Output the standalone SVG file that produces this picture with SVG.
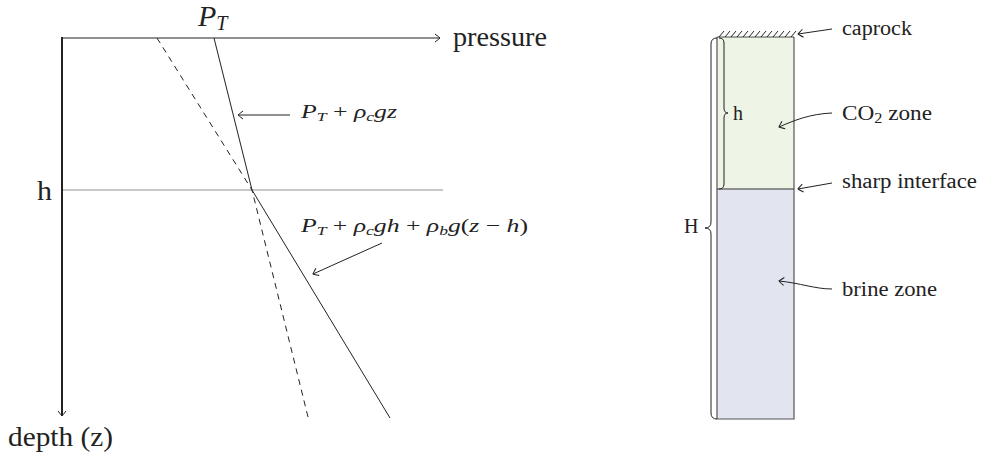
<svg xmlns="http://www.w3.org/2000/svg" width="984" height="458" viewBox="0 0 984 458">
<style>
.ln{stroke:#222;fill:none;stroke-width:1}
.ax{stroke:#222;fill:none;stroke-width:2}
</style>
<defs>
<marker id="to" viewBox="-6 -5 8 10" markerWidth="8" markerHeight="10" refX="0" refY="0" orient="auto" markerUnits="userSpaceOnUse">
<path d="M-5,-4 Q-1,-1 0,0 Q-1,1 -5,4" fill="none" stroke="#222" stroke-width="1"/>
</marker>
</defs>
<g font-family="'Liberation Serif', 'DejaVu Serif', serif" fill="#222">
<g id="plot">
<line x1="62" y1="190" x2="443" y2="190" stroke="#b4b4b4" stroke-width="1.5"/>
<line class="ax" x1="62" y1="37" x2="62" y2="416" marker-end="url(#to)"/>
<line class="ln" x1="61" y1="38" x2="440" y2="38" marker-end="url(#to)"/>
<polyline class="ln" points="214,38 252,190 390,418"/>
<polyline class="ln" points="157,38 252,190 308,417" stroke-dasharray="6,5"/>
<text x="198" y="26" font-style="italic" font-size="30">P<tspan font-size="20" dy="4">T</tspan></text>
<text x="453" y="46" font-size="27" textLength="94" lengthAdjust="spacingAndGlyphs">pressure</text>
<text x="8" y="446" font-size="27" textLength="105" lengthAdjust="spacingAndGlyphs">depth (z)</text>
<text x="37" y="200" font-size="28" textLength="15" lengthAdjust="spacingAndGlyphs">h</text>
</g>
<g id="column">
<rect x="717" y="37" width="77" height="152" fill="#eef4e6"/>
<rect x="717" y="189" width="77" height="230" fill="#e2e4f0"/>
<path d="M717,37 L717,419 L794,419 L794,37" fill="none" stroke="#555" stroke-width="1.2"/>
<line x1="717" y1="189" x2="794" y2="189" stroke="#333" stroke-width="1.2"/>
<line x1="717" y1="37" x2="794" y2="37" stroke="#222" stroke-width="0.8"/>
<path class="ln" stroke-width="0.8" d="M719,37 l5,-6 M725,37 l5,-6 M731,37 l5,-6 M737,37 l5,-6 M743,37 l5,-6 M749,37 l5,-6 M755,37 l5,-6 M761,37 l5,-6 M767,37 l5,-6 M773,37 l5,-6 M779,37 l5,-6 M785,37 l5,-6 M791,37 l5,-6"/>
</g>
<g id="connectors">
<line class="ln" x1="290" y1="115" x2="238" y2="115" marker-end="url(#to)"/>
<line class="ln" x1="382" y1="243" x2="313" y2="274" marker-end="url(#to)"/>
<path class="ln" d="M832,29 L798,34" marker-end="url(#to)"/>
<path class="ln" d="M832,113 C810,114 795,120 779,127" marker-end="url(#to)"/>
<path class="ln" d="M832,183 L798,189" marker-end="url(#to)"/>
<path class="ln" d="M832,289 C815,289 800,283 779,281" marker-end="url(#to)"/>
</g>
<g id="label1">
<text x="301" y="118" font-size="19" textLength="96" lengthAdjust="spacingAndGlyphs"><tspan font-style="italic">P<tspan font-size="13" dy="3">T</tspan></tspan><tspan dy="-3"> + </tspan><tspan font-style="italic">ρ<tspan font-size="13" dy="3">c</tspan><tspan dy="-3">gz</tspan></tspan></text>
</g>
<g id="label2">
<text x="301" y="232" font-size="19" textLength="227" lengthAdjust="spacingAndGlyphs"><tspan font-style="italic">P<tspan font-size="13" dy="3">T</tspan></tspan><tspan dy="-3"> + </tspan><tspan font-style="italic">ρ<tspan font-size="13" dy="3">c</tspan><tspan dy="-3">gh</tspan></tspan> + <tspan font-style="italic">ρ<tspan font-size="13" dy="3">b</tspan><tspan dy="-3">g</tspan></tspan>(<tspan font-style="italic">z</tspan> − <tspan font-style="italic">h</tspan>)</text>
</g>
<g id="braces">
<path class="ln" d="M719,38 q5,0 5,5 L724,108 q0,5 4,5 q-4,0 -4,5 L724,184 q0,5 -5,5"/>
<path class="ln" d="M717,38 q-6,0 -6,6 L711,222 q0,6 -6,6 q6,0 6,6 L711,413 q0,6 6,6"/>
<text x="733" y="120" font-size="20">h</text>
<text x="684" y="233" font-size="20">H</text>
</g>
<g id="labels">
<text x="842" y="35" font-size="20" textLength="70" lengthAdjust="spacingAndGlyphs">caprock</text>
<text x="842" y="120" font-size="20" textLength="90" lengthAdjust="spacingAndGlyphs">CO<tspan font-size="14" dy="3">2</tspan><tspan dy="-3"> zone</tspan></text>
<text x="842" y="188" font-size="20" textLength="135" lengthAdjust="spacingAndGlyphs">sharp interface</text>
<text x="842" y="296" font-size="20" textLength="95" lengthAdjust="spacingAndGlyphs">brine zone</text>
</g>
</g>
</svg>
